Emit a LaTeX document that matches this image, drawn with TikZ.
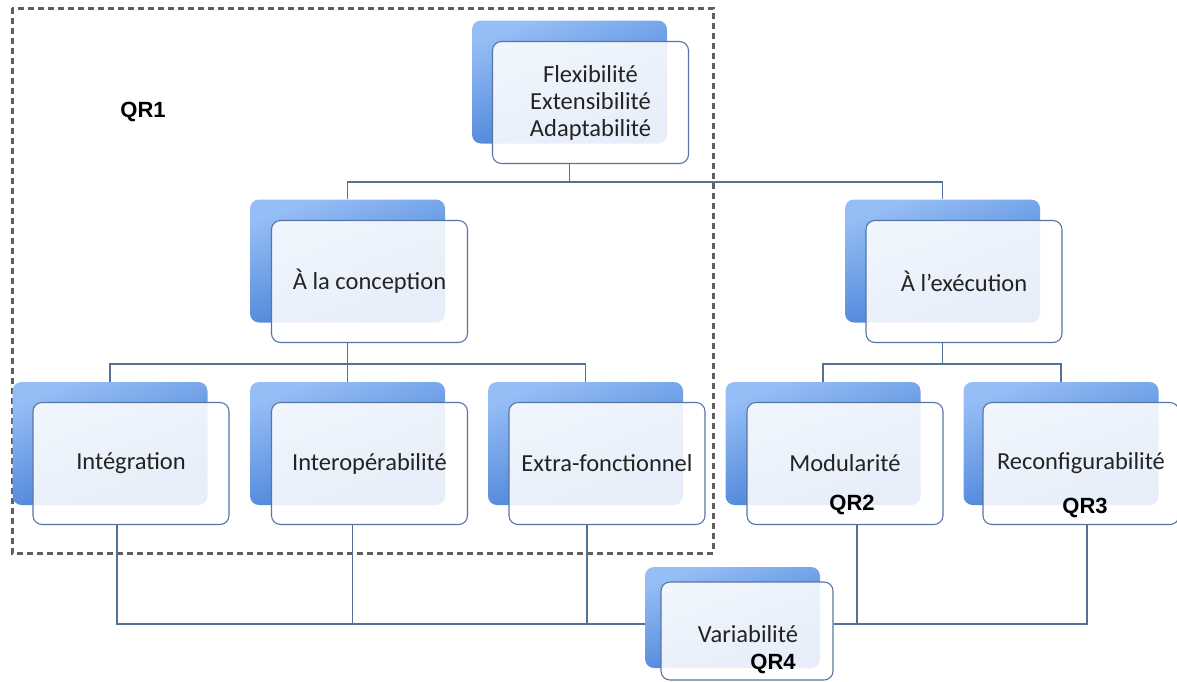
\documentclass[tikz,border=0pt]{standalone}
\usepackage{fontspec}
\setmainfont{Carlito}
\newfontfamily\qrfont{Liberation Sans}
\definecolor{bluetop}{RGB}{150,190,246}
\definecolor{bluebot}{RGB}{58,118,210}
\definecolor{frontborder}{RGB}{88,118,165}
\definecolor{lineblue}{RGB}{85,112,150}
\definecolor{txt}{RGB}{35,35,35}
\definecolor{dashgray}{RGB}{95,95,95}
\begin{document}
\begin{tikzpicture}[x=1pt,y=-1pt,
  backbox/.style={rounded corners=9pt, top color=bluetop, bottom color=bluebot,
    shading angle=20, draw=none, minimum width=195pt, minimum height=123pt, inner sep=0pt},
  frontbox/.style={rounded corners=9pt, draw=frontborder, line width=1.1pt,
    fill=white, fill opacity=0.88, text opacity=1, text=txt,
    minimum width=196pt, minimum height=122pt, inner sep=0pt, align=center,
    font=\fontsize{24.5}{27}\selectfont},
  smallback/.style={backbox, minimum width=175pt, minimum height=101pt},
  smallfront/.style={frontbox, minimum width=172pt, minimum height=98pt},
  qr/.style={font=\qrfont\bfseries\fontsize{22}{26}\selectfont, text=black, inner sep=0pt},
  conn/.style={draw=lineblue, line width=1.2pt}]
\useasboundingbox (0,0) rectangle (1177,681);

% dashed QR1 region
\draw[dashgray, line width=3pt, dash pattern=on 6pt off 4pt] (12,8) rectangle (713,553);
\node[qr] (qr1) at (143,112) {QR1};

% top
\node[backbox] (bTop) at (569.5,82) {};

% second level
\node[backbox] (bConc) at (347.5,261) {};
\node[backbox] (bExec) at (942.5,261) {};

% bottom row backs
\node[backbox] (bInteg) at (110,443.5) {};
\node[backbox] (bInterop) at (347.5,443.5) {};
\node[backbox] (bExtra) at (585.5,443.5) {};
\node[backbox] (bModu) at (823,443.5) {};
\node[backbox] (bReconf) at (1061,443.5) {};
\node[smallback] (bVar) at (732.5,617.5) {};

\node[frontbox] (fTop) at (590.5,102.5) {Flexibilité\\Extensibilité\\Adaptabilité};

% connectors (behind front boxes)
\coordinate (y1) at (0,182);
\draw[conn] (fTop.south -| bTop.south) -- (bTop.south |- y1);
\draw[conn] (bConc.north) -- (bConc.north |- y1) -- (bExec.north |- y1) -- (bExec.north);

\coordinate (y2) at (0,364);
\coordinate (y0) at (0,342);
\draw[conn] (bConc.south |- y0) -- (bConc.south |- y2);
\draw[conn] (bInteg.north) -- (bInteg.north |- y2) -- (bExtra.north |- y2) -- (bExtra.north);
\draw[conn] (bInterop.north) -- (bInterop.north |- y2);

\draw[conn] (bExec.south |- y0) -- (bExec.south |- y2);
\draw[conn] (bModu.north) -- (bModu.north |- y2) -- (bReconf.north |- y2) -- (bReconf.north);

% front boxes
\node[frontbox] (fConc) at (369.5,281.5) {À la conception};
\node[frontbox] (fExec) at (964,281.5) {À l’exécution};
\node[frontbox] (fInteg) at (131,463.5) {Intégration};
\node[frontbox] (fInterop) at (369.5,463.5) {Interopérabilité};
\node[frontbox] (fExtra) at (607,463.5) {Extra-fonctionnel};
\node[frontbox] (fModu) at (845,463.5) {Modularité};
\node[frontbox] (fReconf) at (1081,463.5) {Reconfigurabilité};
\node[smallfront] (fVar) at (747,631) {};
\node[text=txt, font=\fontsize{24.5}{27}\selectfont, inner sep=0pt, anchor=base] (tVar) at (748,642) {Variabilité};

\node[qr] (qr2) at (852,505) {QR2};
\node[qr] (qr3) at (1085,508) {QR3};
\node[qr, anchor=base] (qr4) at (773,669) {QR4};

% bottom connectors to Variabilite
\coordinate (yb) at (0,624);
\draw[conn] ([xshift=-14pt]fInteg.south) -- ([xshift=-14pt]fInteg.south |- yb) -- (bVar.west |- yb);
\draw[conn] ([xshift=-17pt]fInterop.south) -- ([xshift=-17pt]fInterop.south |- yb);
\draw[conn] ([xshift=-20pt]fExtra.south) -- ([xshift=-20pt]fExtra.south |- yb);
\draw[conn] ([xshift=12pt]fModu.south) -- ([xshift=12pt]fModu.south |- yb);
\draw[conn] (fVar.east |- yb) -- ([xshift=6pt]fReconf.south |- yb) -- ([xshift=6pt]fReconf.south);
\end{tikzpicture}
\end{document}
